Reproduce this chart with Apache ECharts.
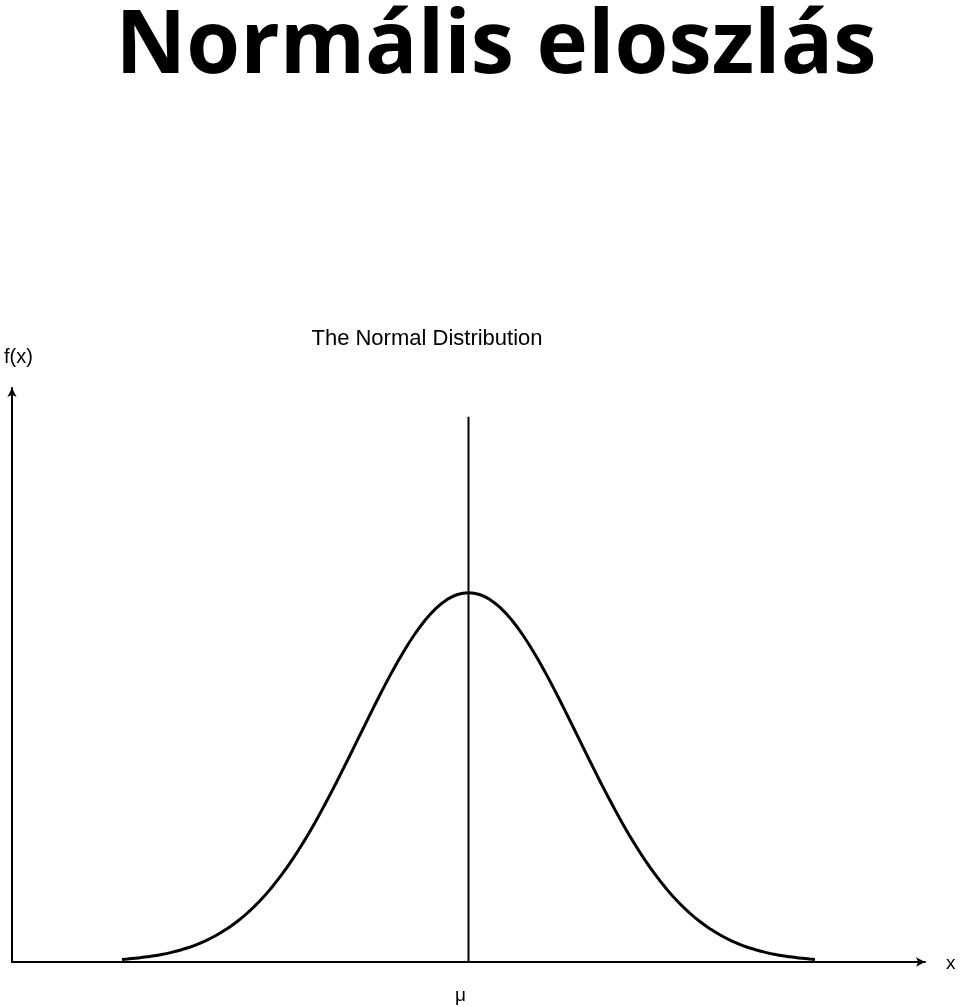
<!DOCTYPE html>
<html>
<head>
<meta charset="utf-8">
<script src="https://cdn.jsdelivr.net/npm/echarts@6/dist/echarts.min.js"></script>
<style>
html,body{margin:0;padding:0;background:#fff;}
#chart{width:960px;height:1007px;}
</style>
</head>
<body>
<div id="chart"></div>
<script>
// x positions in units of sigma from the mean (mu = 0)
var xValues = [-3.15,-3.1,-3.0,-2.9,-2.8,-2.7,-2.6,-2.5,-2.4,-2.3,-2.2,-2.1,-2.0,-1.9,-1.8,-1.7,-1.6,-1.5,-1.4,-1.3,-1.2,-1.1,-1.0,-0.9,-0.8,-0.7,-0.6,-0.5,-0.4,-0.3,-0.2,-0.1,0.0,
  0.1,0.2,0.3,0.4,0.5,0.6,0.7,0.8,0.9,1.0,1.1,1.2,1.3,1.4,1.5,1.6,1.7,1.8,1.9,2.0,2.1,2.2,2.3,2.4,2.5,2.6,2.7,2.8,2.9,3.0,3.1,3.15];
// f(x) values
var fValues = [0.0028,0.0033,0.0044,0.0060,0.0079,0.0104,0.0136,0.0175,0.0224,0.0283,0.0355,0.0440,0.0540,0.0656,0.0790,0.0940,0.1109,0.1295,0.1497,0.1714,0.1942,0.2179,0.2420,0.2661,0.2897,0.3123,0.3332,0.3521,0.3683,0.3814,0.3910,0.3970,0.3989,
  0.3970,0.3910,0.3814,0.3683,0.3521,0.3332,0.3123,0.2897,0.2661,0.2420,0.2179,0.1942,0.1714,0.1497,0.1295,0.1109,0.0940,0.0790,0.0656,0.0540,0.0440,0.0355,0.0283,0.0224,0.0175,0.0136,0.0104,0.0079,0.0060,0.0044,0.0033,0.0028];
var muLineX = [0, 0];
var muLineY = [0, 0.589];
var titleText = 'Normális eloszlás';
var subtitleText = 'The Normal Distribution';
var yAxisName = 'f(x)';
var xAxisName = 'x';
var muLabel = 'μ';

var curveData = xValues.map(function (x, i) { return [x, fValues[i]]; });
var muData = muLineX.map(function (x, i) { return [x, muLineY[i]]; });

var chart = echarts.init(document.getElementById('chart'), null, {renderer: 'canvas'});
chart.setOption({
  backgroundColor: '#ffffff',
  animation: false,
  title: [
    {text: titleText, left: 491, top: 0, textAlign: 'center',
     textStyle: {fontFamily: 'Open Sans', fontWeight: 'bold', fontSize: 87, color: '#000'}},
    {text: subtitleText, left: 422, top: 323, textAlign: 'center',
     textStyle: {fontFamily: 'Liberation Sans', fontWeight: 'normal', fontSize: 22, color: '#000'}}
  ],
  graphic: [
    {type: 'text', left: 4, top: 347, style: {text: yAxisName, font: '20px "Liberation Sans"', fill: '#000'}},
    {type: 'text', left: 946, top: 954, style: {text: xAxisName, font: '19px "Liberation Sans"', fill: '#000'}},
    {type: 'text', left: 455, top: 986, style: {text: muLabel, font: '19px "Liberation Sans"', fill: '#000'}}
  ],
  grid: {left: 12, right: 35, top: 388, bottom: 45, containLabel: false},
  xAxis: {
    type: 'value', min: -4.15, max: 4.15,
    axisLine: {show: true, onZero: false, symbol: ['none', 'arrow'], symbolSize: [7, 9], lineStyle: {color: '#000', width: 2}},
    axisTick: {show: false}, axisLabel: {show: false}, splitLine: {show: false}
  },
  yAxis: {
    type: 'value', min: 0, max: 0.62,
    axisLine: {show: true, onZero: false, symbol: ['none', 'arrow'], symbolSize: [7, 9], lineStyle: {color: '#000', width: 2}},
    axisTick: {show: false}, axisLabel: {show: false}, splitLine: {show: false}
  },
  series: [
    {type: 'line', data: muData, symbol: 'none', lineStyle: {color: '#000', width: 2}, z: 2},
    {type: 'line', data: curveData, smooth: true, symbol: 'none', lineStyle: {color: '#000', width: 3}, z: 3}
  ]
});
</script>
</body>
</html>
